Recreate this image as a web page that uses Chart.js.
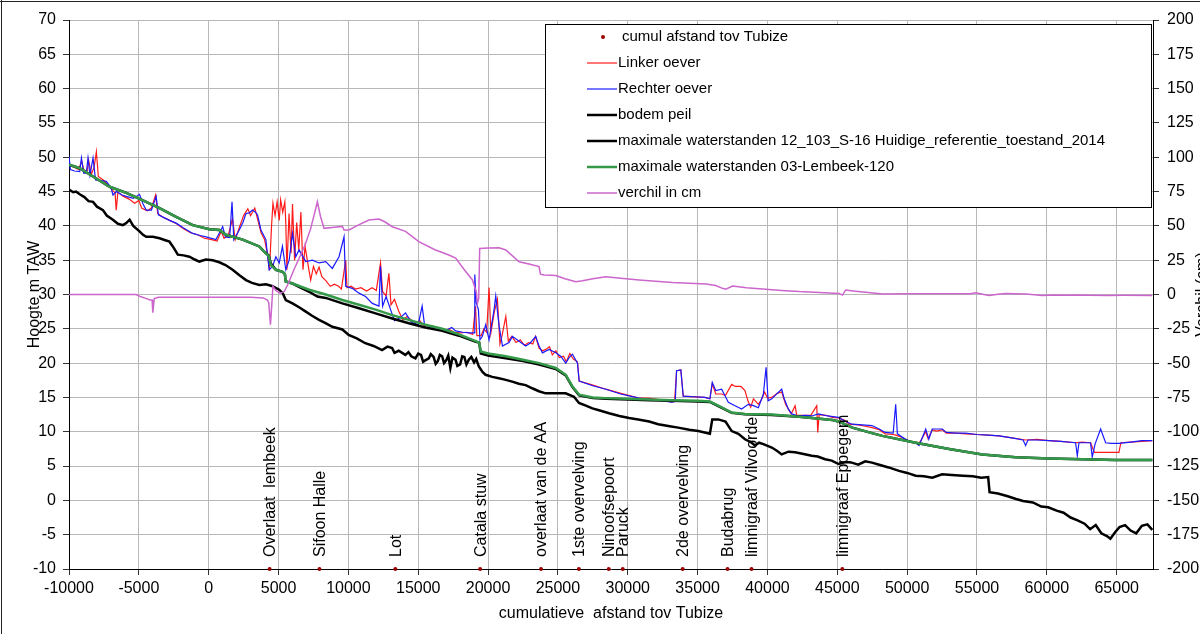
<!DOCTYPE html>
<html>
<head>
<meta charset="utf-8">
<script src="https://cdn.jsdelivr.net/npm/chart.js@4.4.1/dist/chart.umd.min.js"></script>
<style>
  html, body { margin: 0; padding: 0; background: #fff; }
  canvas { display: block; }
</style>
</head>
<body>
<canvas id="c" width="1200" height="634"></canvas>
<script>
const FONT = "'Liberation Sans', Arial, sans-serif";

// Structures along the river: cumulative distance from Tubize (m)
const kunstwerkNamen = ['Overlaat  lembeek', 'Sifoon Halle', 'Lot', 'Catala stuw', 'overlaat van de AA',
  '1ste overvelving', 'Ninoofsepoort', 'Paruck', '2de overvelving', 'Budabrug',
  'limnigraaf Vilvoorde', 'limnigraaf Eppegem'];
const kunstwerkAfstand = [4360, 7930, 13360, 19430, 23790, 26500, 28640, 29640, 33930, 37140, 38860, 45360];
const kunstwerkPeil = [-10, -10, -10, -10, -10, -10, -10, -10, -10, -10, -10, -10];

// Left bank level [distance m, m TAW]
const linkerOever = [
  [-10000,48.8],[-9600,48.5],[-9300,48.2],[-9100,49.5],[-8900,47.8],[-8700,48.0],[-8600,49.6],[-8400,47.5],
  [-8200,48.6],[-8040,50.8],[-7900,47.2],[-7500,46.6],[-7200,46.0],[-6900,45.2],[-6700,44.8],[-6620,42.3],
  [-6500,44.9],[-6100,44.3],[-5700,43.9],[-5300,43.3],[-5000,43.7],[-4800,42.6],[-4400,42.2],[-4100,42.6],
  [-3800,44.5],[-3650,41.8],[-3300,41.3],[-2800,40.8],[-2300,40.3],[-1800,39.6],[-1300,39.0],[-800,38.7],
  [-300,38.2],[200,38.0],[600,37.8],[900,39.2],[1100,38.2],[1400,38.6],[1700,41.0],[1900,38.0],[2200,39.8],
  [2500,41.5],[2800,42.5],[3000,41.5],[3300,42.6],[3500,41.0],[3750,39.0],[4000,38.0],[4200,36.0],[4350,33.5],
  [4500,40.0],[4600,43.3],[4750,41.5],[4900,43.5],[5050,40.8],[5150,43.8],[5300,42.0],[5450,43.5],[5520,40.4],
  [5600,33.6],[5750,41.8],[5900,36.0],[6000,43.2],[6150,35.0],[6300,40.5],[6450,36.5],[6600,42.0],[6750,33.6],
  [6900,37.0],[7100,34.5],[7300,32.1],[7500,34.1],[7700,33.0],[7900,34.0],[8100,32.6],[8400,32.0],[8700,31.2],
  [9000,31.5],[9300,31.2],[9500,30.8],[9810,35.0],[9900,31.0],[10200,31.2],[10500,30.8],[10900,31.0],
  [11300,30.5],[11700,31.0],[12000,30.6],[12300,34.6],[12450,30.4],[12700,29.8],[12900,33.1],[13050,28.5],
  [13300,29.3],[13600,27.6],[13900,26.3],[14200,26.8],[14500,26.3],[14800,25.8],[15100,26.2],[15400,25.5],
  [15700,25.0],[16000,25.4],[16400,24.9],[16800,24.7],[17200,24.9],[17600,24.5],[18000,24.4],[18500,24.5],
  [18900,24.2],[19100,28.3],[19200,24.0],[19500,24.0],[19700,25.0],[19900,24.5],[20070,31.0],[20200,24.4],
  [20450,27.5],[20670,29.3],[20850,22.8],[21000,24.0],[21270,26.8],[21450,23.2],[21700,23.9],[22000,23.0],
  [22300,23.4],[22600,22.6],[22900,23.0],[23200,22.8],[23400,23.9],[23650,22.2],[23900,21.8],[24130,22.0],
  [24400,22.4],[24600,21.2],[24850,21.8],[25100,20.8],[25400,21.0],[25600,20.2],[25850,21.4],[26100,20.6],
  [26400,20.2],[26520,17.4],[27500,16.8],[28430,16.2],[29500,15.6],[30800,14.9],[31500,14.9],[32500,14.6],
  [33140,14.3],[33350,14.4],[33500,18.9],[33800,19.0],[33970,15.2],[35500,15.0],[35880,14.8],[36050,17.0],
  [36300,15.5],[36720,15.5],[37000,15.3],[37440,16.9],[37700,16.6],[38100,16.6],[38390,16.0],[38600,14.5],
  [38800,13.6],[39000,14.8],[39350,14.0],[39600,14.8],[39800,15.8],[40000,14.9],[40310,15.0],[40700,15.6],
  [41020,15.8],[41300,14.0],[41500,13.3],[41700,12.6],[41980,13.8],[42100,12.4],[42600,12.4],[43100,12.4],
  [43530,13.8],[43600,9.9],[43700,12.5],[44200,12.4],[44650,12.1],[45100,12.0],[45500,11.7],[45840,11.1],
  [46500,11.0],[47000,10.8],[47500,10.6],[48000,10.3],[48430,9.7],[49000,9.6],[49180,9.5],[49600,9.2],
  [50000,8.8],[50400,8.4],[50610,8.4],[50800,8.2],[51000,8.8],[51330,10.0],[51500,9.0],[51800,10.3],
  [52100,10.1],[52520,10.3],[52800,9.8],[53500,9.8],[54190,9.7],[55000,9.6],[55800,9.5],[56580,9.4],
  [57500,9.1],[58480,8.8],[59300,8.9],[60150,8.7],[61000,8.6],[62060,8.4],[62500,8.5],[63130,8.4],
  [63400,7.0],[64000,7.0],[64500,7.0],[65160,7.0],[65300,8.4],[66000,8.5],[66800,8.6],[67550,8.7]
];

// Right bank level [distance m, m TAW]
const rechterOever = [
  [-10000,50.1],[-9900,48.2],[-9600,48.0],[-9230,47.9],[-9110,49.9],[-8950,47.7],[-8760,47.7],[-8640,49.9],
  [-8500,47.4],[-8280,49.9],[-8100,46.7],[-7700,46.6],[-7330,46.5],[-7000,45.6],[-6850,44.5],[-6600,45.0],
  [-6200,44.5],[-5900,44.3],[-5400,44.0],[-4950,44.6],[-4700,43.2],[-4470,42.3],[-4100,42.3],[-3760,44.3],
  [-3600,41.6],[-3200,41.2],[-2800,40.8],[-2330,40.4],[-1800,39.7],[-1140,38.9],[-600,38.6],[-190,38.4],
  [520,38.0],[1000,39.9],[1200,38.4],[1500,38.3],[1670,43.5],[1800,38.0],[2190,39.4],[2450,40.5],[2670,41.8],
  [2900,41.9],[3140,42.3],[3350,42.0],[3500,41.6],[3740,39.4],[4090,38.0],[4330,33.6],[4570,34.1],[4810,35.5],
  [5050,34.6],[5280,37.0],[5520,33.6],[5760,35.0],[6000,38.9],[6230,35.5],[6470,36.5],[6950,34.8],[7420,35.0],
  [7900,34.6],[8380,34.8],[8850,33.8],[9330,35.5],[9690,38.4],[9810,31.2],[10280,30.9],[10760,30.2],
  [11230,29.7],[11710,28.7],[12190,28.3],[12300,34.1],[12450,28.3],[12700,29.7],[13020,27.8],[13300,26.2],
  [13700,26.6],[14090,27.3],[14500,26.0],[15000,25.6],[15280,28.3],[15450,25.6],[16000,25.2],[16490,24.9],
  [17000,24.8],[17400,25.2],[17680,24.7],[18200,24.5],[18640,24.4],[19000,24.4],[19050,32.9],[19150,28.8],
  [19310,27.8],[19420,23.4],[19590,23.9],[19830,25.6],[20070,23.4],[20430,27.8],[20550,29.8],[20790,25.4],
  [21030,22.5],[21500,23.0],[21740,23.9],[22220,23.2],[22700,22.5],[23000,22.9],[23410,23.9],[23650,22.5],
  [23890,21.5],[24370,22.0],[24850,21.5],[25200,21.0],[25560,20.0],[25800,20.8],[26040,21.3],[26400,20.0],
  [26520,17.4],[27500,16.7],[28430,16.2],[29500,15.5],[30810,14.9],[31800,14.7],[32500,14.5],[33140,14.3],
  [33400,14.4],[33490,18.9],[33800,19.0],[33970,15.2],[34700,15.1],[35530,15.0],[35880,14.8],[36050,17.2],
  [36300,16.0],[36720,16.2],[37200,14.3],[37680,13.8],[38150,13.3],[38630,14.0],[39000,13.8],[39350,13.5],
  [39710,15.5],[39900,19.4],[40050,14.5],[40310,14.8],[40700,15.6],[41020,16.2],[41200,14.8],[41500,13.3],
  [41740,12.6],[42220,12.3],[42700,12.4],[43170,12.3],[43650,12.6],[44300,12.3],[45090,12.1],[45500,11.6],
  [46040,11.1],[46800,11.0],[47480,10.9],[48000,10.4],[48430,9.9],[49000,9.8],[49180,14.0],[49300,9.7],
  [49800,9.0],[50200,8.6],[50610,8.4],[50850,8.0],[51100,9.2],[51330,10.4],[51550,8.9],[51800,10.4],
  [52200,10.4],[52520,10.4],[52800,9.9],[53500,9.8],[54190,9.8],[55000,9.6],[55800,9.5],[56580,9.4],
  [57500,9.1],[58300,8.8],[58480,8.0],[58650,8.8],[59300,8.8],[60150,8.7],[61000,8.6],[62060,8.4],
  [62180,6.5],[62300,8.4],[63130,8.4],[63250,6.3],[63450,8.2],[63850,10.4],[64210,8.4],[64600,8.3],
  [65160,8.3],[66000,8.5],[66800,8.7],[67550,8.7]
];

// River bed level [distance m, m TAW]
const bodemPeil = [
  [-10000,45.3],[-9700,44.9],[-9500,45.0],[-9230,44.6],[-8900,44.2],[-8600,43.6],[-8280,43.5],[-8000,42.8],
  [-7570,42.3],[-7300,41.5],[-6860,40.9],[-6500,40.3],[-6140,40.1],[-5900,40.4],[-5660,40.9],[-5400,40.0],
  [-4950,39.2],[-4700,38.7],[-4470,38.4],[-4000,38.4],[-3520,38.2],[-3100,37.9],[-2810,37.7],[-2500,36.8],
  [-2210,35.8],[-1800,35.7],[-1380,35.5],[-1000,35.1],[-670,34.8],[-200,35.1],[290,35.0],[760,34.7],
  [1200,34.3],[1710,33.6],[2200,32.8],[2670,32.1],[3100,31.7],[3620,31.4],[4100,31.5],[4570,31.2],[5050,30.7],
  [5300,30.2],[5520,29.2],[6000,28.7],[6500,28.1],[6950,27.5],[7400,26.9],[7900,26.3],[8400,25.8],[8850,25.3],
  [9570,24.9],[10020,24.1],[10600,23.6],[11210,22.9],[11800,22.5],[12410,21.9],[12800,22.4],[13130,22.2],
  [13300,21.5],[13600,21.8],[14080,21.2],[14300,21.6],[14500,21.0],[14800,20.7],[15000,21.4],[15200,21.2],
  [15350,20.2],[15500,20.4],[15760,20.7],[15900,21.3],[16100,20.9],[16250,19.9],[16400,20.3],[16550,21.2],
  [16710,21.0],[16850,20.0],[17000,20.4],[17150,21.1],[17300,19.3],[17450,20.8],[17670,20.5],[17800,19.6],
  [18000,19.8],[18150,21.0],[18300,20.9],[18450,19.8],[18620,20.5],[18800,20.9],[19000,20.1],[19150,20.6],
  [19340,19.5],[19600,18.7],[19820,18.3],[20300,18.0],[20770,17.8],[21200,17.6],
  [21730,17.3],[22200,17.0],[22690,16.8],[23200,16.3],[23640,15.9],[24120,15.6],[25000,15.6],[25550,15.6],
  [26150,15.1],[26510,14.2],[27000,13.8],[27470,13.4],[28000,13.1],[28660,12.7],[29400,12.3],[30100,12.0],
  [30750,11.8],[31530,11.5],[32180,11.1],[33000,10.8],[33610,10.6],[34400,10.3],[35050,10.1],[35500,9.9],
  [35880,9.7],[36050,11.8],[36480,11.8],[37000,11.5],[37440,10.1],[37920,9.7],[38390,8.9],[38800,8.5],
  [39110,8.0],[39400,8.4],[39710,8.2],[40310,7.7],[40700,7.2],[41020,6.7],[41500,7.1],[41980,7.0],[42500,6.8],
  [43170,6.5],[43600,6.4],[44130,6.0],[44600,5.8],[45090,5.3],[45600,5.6],[46040,5.5],[46500,5.2],[47000,5.7],
  [47480,5.5],[48000,5.2],[48670,4.8],[49420,4.3],[50000,4.0],[50610,3.6],[51200,3.5],[51800,3.3],[52500,3.8],
  [53200,3.7],[54000,3.6],[54700,3.5],[55300,3.3],[55800,3.4],[55900,1.2],[56500,1.0],[57200,0.6],[57800,0.2],
  [58300,-0.1],[59000,-0.3],[59600,-0.9],[60100,-1.0],[60700,-1.5],[61200,-1.8],[61700,-2.5],[62200,-2.9],
  [62700,-3.4],[63100,-4.2],[63500,-3.6],[63900,-4.8],[64300,-5.2],[64550,-5.6],[64900,-4.6],[65200,-3.9],
  [65600,-3.6],[66000,-4.4],[66400,-4.8],[66800,-3.7],[67200,-3.5],[67550,-4.3]
];

// Maximum water levels, reference state 2014 [distance m, m TAW]
const maxReferentie = [
  [-10000,48.9],[-9230,48.4],[-8280,47.2],[-7090,45.7],[-5900,44.8],[-4710,43.7],[-3520,42.6],[-2330,41.3],
  [-1140,40.1],[50,39.5],[760,39.4],[1240,38.7],[2430,38.0],[3620,37.0],[4090,36.0],[4300,35.7],[4450,34.5],
  [4810,33.6],[5280,33.3],[5450,33.0],[5520,31.9],[6000,31.6],[7190,30.4],[7780,29.7],[8380,29.5],[9570,28.7],
  [10760,28.0],[11950,27.25],[13140,26.5],[14330,25.8],[15520,25.2],[16710,24.7],[17920,24.0],[19120,23.1],
  [19360,23.0],[19480,21.4],[20000,21.1],[21270,20.7],[22500,20.3],[23650,19.8],[24850,19.15],[25560,18.2],
  [26040,16.5],[26520,15.3],[27500,14.9],[28430,14.8],[30000,14.7],[31530,14.6],[33140,14.5],[35000,14.4],
  [35880,14.35],[36480,13.75],[37440,12.75],[38390,12.55],[40310,12.45],[42270,12.18],[44650,11.7],
  [45090,11.5],[46080,10.6],[47480,9.8],[48230,9.4],[50610,8.4],[53000,7.5],[55380,6.7],[57770,6.3],
  [60150,6.1],[62540,6.0],[64920,5.9],[67550,5.9]
];

// Maximum water levels, scenario 03-Lembeek-120 [distance m, m TAW]
const maxLembeek = [
  [-10000,48.9],[-9230,48.4],[-8280,47.2],[-7090,45.7],[-5900,44.8],[-4710,43.7],[-3520,42.6],[-2330,41.3],
  [-1140,40.1],[50,39.5],[760,39.4],[1240,38.7],[2430,38.0],[3620,37.0],[4090,36.0],[4300,35.6],[4450,34.3],
  [4810,33.6],[5280,33.3],[5450,33.0],[5520,31.9],[6000,31.6],[7190,30.7],[8380,30.0],[9570,29.2],[10760,28.5],
  [11950,27.8],[13140,27.0],[14330,26.3],[15520,25.6],[16710,25.0],[17920,24.2],[19120,23.2],[19360,23.0],
  [19480,21.7],[20000,21.4],[21270,21.0],[22500,20.5],[23650,20.0],[24850,19.3],[25560,18.3],[26040,16.6],
  [26520,15.4],[27500,15.0],[28430,14.9],[30000,14.8],[31530,14.7],[33140,14.6],[35000,14.5],[35880,14.4],
  [36480,13.8],[37440,12.8],[38390,12.6],[40310,12.5],[42270,12.2],[44650,11.7],[45090,11.5],[46080,10.6],
  [47480,9.8],[48230,9.4],[50610,8.4],[53000,7.5],[55380,6.7],[57770,6.3],[60150,6.1],[62540,6.0],
  [64920,5.9],[67550,5.9]
];

// Difference between the two water level runs [distance m, cm]
const verschilCm = [
  [-10000,0],[-5200,0],[-4900,-1.5],[-4500,-2.8],[-4200,-4],[-4050,-4],[-4000,-13.2],[-3900,-3],[-3600,-2],
  [0,-2],[3000,-2],[3900,-2.5],[4200,-4],[4300,-6],[4420,-22],[4500,-10],[4600,6],[4800,3],[5100,1],[5400,2],
  [5700,8],[6100,18],[6500,27],[6900,36],[7300,48],[7600,60],[7780,67.6],[8000,57],[8260,48.2],[9000,49],
  [9570,49.6],[9690,47],[10040,47],[10700,50.5],[11470,54.3],[12190,55],[12600,53],[13140,49.4],[14090,46],
  [15040,38.5],[16230,32.4],[16490,31.5],[17190,28.8],[17680,26.5],[18300,18],[18880,10.6],[19150,2],
  [19240,-6.4],[19330,-3],[19400,33.6],[20000,33.8],[20790,34.1],[21270,32.4],[22220,23.9],[23000,22],
  [23650,20.3],[23750,14.8],[24010,14.2],[24850,13.9],[25500,11.5],[26280,9.3],[26760,10],[27500,11.5],
  [28430,13],[29500,11.8],[30810,10.6],[32000,9.7],[33200,8.7],[34400,8.2],[35590,7.6],[36300,6.5],
  [36780,4.5],[37020,3.8],[37500,6.2],[38500,5.0],[39880,3.8],[41000,3.0],[42270,2.1],[43700,1.5],
  [45130,0.8],[45370,-0.4],[45600,3.3],[46300,2.4],[47040,1.6],[48230,0.4],[50000,0.5],[52000,0.6],
  [54500,0.5],[54900,1.3],[55400,0.2],[55860,-0.8],[56500,0.2],[57050,0.8],[58500,0.3],[59680,-0.8],
  [60500,-0.4],[61500,-0.5],[62060,-0.4],[63000,-0.5],[64500,-0.7],[65500,-0.6],[67550,-0.8]
];

// Axis ranges and tick values
const afstandBereik = [-10000, 67600];
const afstandTicks = [-10000, -5000, 0, 5000, 10000, 15000, 20000, 25000, 30000, 35000,
  40000, 45000, 50000, 55000, 60000, 65000];
const hoogteTicks = [-10, -5, 0, 5, 10, 15, 20, 25, 30, 35, 40, 45, 50, 55, 60, 65, 70];
const verschilTicks = [-200, -175, -150, -125, -100, -75, -50, -25, 0, 25, 50, 75, 100, 125, 150, 175, 200];

const toPoints = arr => arr.map(([x, y]) => ({ x, y }));
const setTicks = values => scale => { scale.ticks = values.map(value => ({ value })); };

function lineSet(label, data, color, width, order, axis) {
  return {
    label, data: toPoints(data), showLine: true, borderColor: color, backgroundColor: color,
    borderWidth: width, pointRadius: 0, pointHoverRadius: 0, tension: 0, fill: false,
    order, yAxisID: axis || 'y'
  };
}

// Axis titles, structure labels, outer frame and boxed legend
const decorations = {
  id: 'decorations',
  beforeDraw(chart) {
    const ctx = chart.ctx;
    ctx.save();
    ctx.fillStyle = '#fff';
    ctx.fillRect(0, 0, chart.width, chart.height);
    ctx.fillStyle = '#222';
    ctx.fillRect(0, 1, chart.width, 1);
    ctx.fillRect(1, 0, 1, chart.height);
    ctx.restore();
  },
  afterDatasetsDraw(chart) {
    const ctx = chart.ctx;
    const meta = chart.getDatasetMeta(0);
    ctx.save();
    ctx.fillStyle = '#000';
    ctx.font = '16px ' + FONT;
    ctx.textAlign = 'left';
    ctx.textBaseline = 'middle';
    meta.data.forEach((el, i) => {
      ctx.save();
      ctx.translate(el.x + 1, el.y - 12);
      ctx.rotate(-Math.PI / 2);
      ctx.fillText(kunstwerkNamen[i], 0, 0);
      ctx.restore();
    });
    ctx.restore();
  },
  afterDraw(chart) {
    const ctx = chart.ctx;
    const area = chart.chartArea;
    ctx.save();
    ctx.fillStyle = '#000';
    ctx.font = '16px ' + FONT;
    ctx.textAlign = 'center';
    ctx.textBaseline = 'middle';
    ctx.fillText('cumulatieve  afstand tov Tubize', (area.left + area.right) / 2, 614);
    const midY = (area.top + area.bottom) / 2;
    ctx.save();
    ctx.translate(35, midY);
    ctx.rotate(-Math.PI / 2);
    ctx.fillText('Hoogte m TAW', 0, 0);
    ctx.restore();
    ctx.save();
    ctx.translate(1203, midY);
    ctx.rotate(-Math.PI / 2);
    ctx.fillText('Verchil (cm)', 0, 0);
    ctx.restore();

    // legend box
    const bx = 545, by = 24, bw = 606, bh = 183;
    ctx.fillStyle = '#fff';
    ctx.fillRect(bx, by, bw, bh);
    ctx.strokeStyle = '#000';
    ctx.lineWidth = 1;
    ctx.strokeRect(bx + 0.5, by + 0.5, bw, bh);
    ctx.font = '15px ' + FONT;
    ctx.textAlign = 'left';
    chart.data.datasets.forEach((ds, i) => {
      const y = 37 + i * 26;
      if (ds.showLine) {
        ctx.strokeStyle = ds.borderColor;
        ctx.lineWidth = ds.borderWidth;
        ctx.beginPath();
        ctx.moveTo(587, y);
        ctx.lineTo(617, y);
        ctx.stroke();
        ctx.fillStyle = '#000';
        ctx.fillText(ds.label, 618, y);
      } else {
        ctx.fillStyle = ds.pointBackgroundColor;
        ctx.beginPath();
        ctx.arc(603, y, 2, 0, Math.PI * 2);
        ctx.fill();
        ctx.fillStyle = '#000';
        ctx.fillText(ds.label, 622, y);
      }
    });
    ctx.restore();
  }
};

Chart.defaults.font.family = FONT;
Chart.defaults.font.size = 16;
Chart.defaults.color = '#000';

new Chart(document.getElementById('c'), {
  type: 'scatter',
  data: {
    datasets: [
      {
        label: 'cumul afstand tov Tubize',
        data: kunstwerkAfstand.map((x, i) => ({ x, y: kunstwerkPeil[i] })),
        showLine: false, pointRadius: 2, pointBackgroundColor: '#9a0000', pointBorderWidth: 0,
        pointBorderColor: '#9a0000', order: 0, clip: false, yAxisID: 'y'
      },
      lineSet('Linker oever', linkerOever, '#ff1a1a', 1.2, 6),
      lineSet('Rechter oever', rechterOever, '#1a1aff', 1.2, 5),
      lineSet('bodem peil', bodemPeil, '#000000', 2.5, 4),
      lineSet('maximale waterstanden 12_103_S-16 Huidige_referentie_toestand_2014', maxReferentie, '#000000', 2.5, 3),
      lineSet('maximale waterstanden 03-Lembeek-120', maxLembeek, '#349a4a', 2.5, 2),
      lineSet('verchil in cm', verschilCm, '#cc66cc', 1.5, 1, 'y2')
    ]
  },
  plugins: [decorations],
  options: {
    responsive: false,
    animation: false,
    events: [],
    layout: { padding: { top: 20, left: 0, right: 0, bottom: 0 } },
    plugins: { legend: { display: false }, tooltip: { enabled: false } },
    scales: {
      x: {
        type: 'linear', position: 'bottom', min: afstandBereik[0], max: afstandBereik[1],
        afterFit: s => { s.height = 65; },
        afterBuildTicks: setTicks(afstandTicks),
        ticks: { autoSkip: false, maxRotation: 0, padding: 4, callback: v => String(v), color: '#000', font: { size: 16 } },
        grid: { color: '#b8b8b8', lineWidth: 1, tickLength: 6, tickColor: '#333' },
        border: { color: '#000', width: 1 }
      },
      y: {
        position: 'left', min: hoogteTicks[0], max: hoogteTicks[hoogteTicks.length - 1],
        afterFit: s => { s.width = 69; },
        afterBuildTicks: setTicks(hoogteTicks),
        ticks: { autoSkip: false, padding: 7, callback: v => String(v), color: '#000', font: { size: 16 } },
        grid: { color: '#b8b8b8', lineWidth: 1, tickLength: 6, tickColor: '#333' },
        border: { color: '#000', width: 1 }
      },
      y2: {
        position: 'right', min: verschilTicks[0], max: verschilTicks[verschilTicks.length - 1],
        afterFit: s => { s.width = 47; },
        afterBuildTicks: setTicks(verschilTicks),
        ticks: { autoSkip: false, padding: 8, callback: v => String(v), color: '#000', font: { size: 16 } },
        grid: { drawOnChartArea: false, tickLength: 6, tickColor: '#333' },
        border: { color: '#000', width: 1 }
      }
    }
  }
});
</script>
</body>
</html>
